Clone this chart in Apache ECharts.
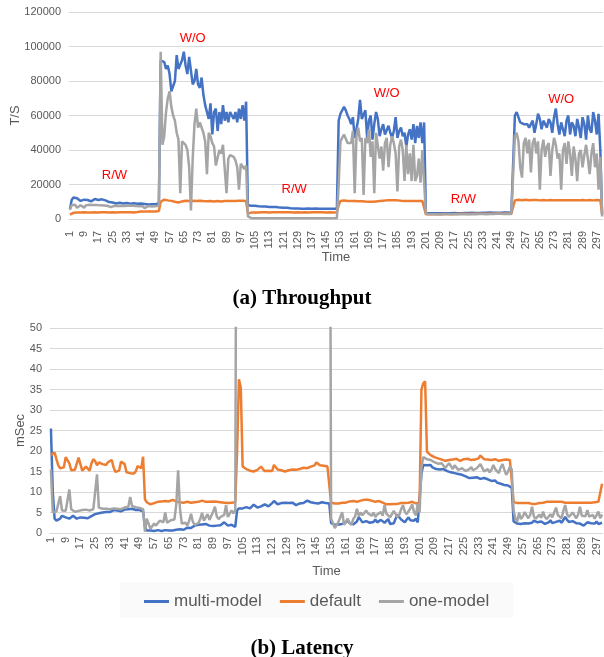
<!DOCTYPE html>
<html>
<head>
<meta charset="utf-8">
<script src="https://cdn.jsdelivr.net/npm/echarts@6/dist/echarts.min.js"></script>
<style>
  html, body { margin: 0; padding: 0; background: #fff; }
  #chart { width: 604px; height: 657px; }
</style>
</head>
<body>
<div id="chart"></div>
<script>
  // time axis: 1..300
  var times = [];
  for (var i = 1; i <= 300; i++) times.push(String(i));

  // (a) throughput, T/S
  var tpMulti = [
    5500, 11000, 12500, 12300, 12000, 11000, 10500, 11500, 11200, 11300,
    11000, 10500, 10200, 11000, 11600, 11300, 11000, 11200, 11400, 11000,
    10800, 10000, 9800, 9500, 9600, 9300, 9000, 9200, 9400, 9100,
    9000, 9200, 9300, 9000, 8900, 9000, 9100, 8900, 8800, 8900,
    9000, 8800, 8700, 8600, 8400, 8300, 8500, 8700, 8600, 8800,
    9000,
    92000, 93000, 91000, 87000, 89000, 84000, 74000, 73000, 80000,
    95000, 87000, 88000, 92000, 97000, 89000, 84000, 94000, 86000, 78000,
    80000, 87000, 78000, 76000, 82000, 72000, 66000, 62000, 58000, 67000,
    49000, 62000, 64000, 51000, 62000, 55000, 66000, 57000, 62000, 56000,
    62000, 60000, 58000, 62000, 56000, 64000, 58000, 66000, 57000, 68000,
    8000, 7800, 7700, 7600, 7700, 7500, 7400, 7500, 7300, 7200,
    7300, 7100, 7000, 7100, 6900, 6800, 6900, 6700, 6600, 6700,
    6500, 6400, 6500, 6300, 6200, 6300, 6100, 6000, 6100, 6200,
    6000, 6100, 5900, 6000, 6100, 6000, 5900, 6000, 6100, 5900,
    6000, 6100, 6000, 5900, 6000, 6100, 6000, 5900, 6000, 6100,
    6000,
    57000, 61000, 62000, 65000, 63000, 60000, 58000, 55000, 59000,
    47000, 52000, 58000, 69000, 58000, 57000, 63000, 47000, 57000, 60000,
    46000, 55000, 62000, 58000, 48000, 52000, 55000, 49000, 50000, 54000,
    50000, 47000, 51000, 59000, 47000, 51000, 53000, 48000, 50000, 42000,
    49000, 52000, 46000, 55000, 44000, 54000, 47000, 56000, 44000, 56000,
    3500, 3200, 3300, 3200, 3300, 3200, 3300, 3400, 3300, 3300,
    3400, 3300, 3400, 3400, 3300, 3400, 3500, 3400, 3400, 3500,
    3400, 3500, 3500, 3400, 3500, 3500, 3600, 3500, 3500, 3600,
    3500, 3600, 3600, 3500, 3600, 3600, 3700, 3600, 3600, 3700,
    3600, 3700, 3600, 3700, 3700, 3600, 3700, 3700, 3600, 3700,
    60000, 62000, 61000, 56000, 57000, 55000, 56000, 55000, 53000, 54000,
    57000, 50000, 55000, 61000, 58000, 52000, 57000, 55000, 53000, 58000,
    56000, 50000, 59000, 64000, 55000, 49000, 56000, 52000, 48000, 57000,
    60000, 49000, 56000, 54000, 48000, 58000, 53000, 47000, 59000, 55000,
    46000, 60000, 52000, 50000, 62000, 57000, 49000, 61000, 40000, 2500
  ];
  var tpDefault = [
    2500, 3200, 3600, 3700, 3800, 3800, 3700, 3800, 3900, 3800,
    3800, 3900, 3800, 3800, 3900, 3900, 3800, 3900, 3900, 3800,
    3900, 3900, 3800, 3900, 3900, 3900, 3800, 3900, 3900, 3900,
    3900, 3800, 3900, 3900, 3900, 3900, 3800, 3900, 4000, 4100,
    4300, 4400, 4400, 4500, 4400, 4300, 4400, 4500, 4400, 4500,
    4600,
    10000, 11000, 11200, 11000, 10800, 10600, 10500, 10300, 10000,
    9800, 9600, 9500, 10200, 10500, 10600, 10500, 10400, 10500, 10600,
    10500, 10400, 10500, 10600, 10500, 10400, 10500, 10300, 10200, 10400,
    10300, 10200, 10300, 10400, 10300, 10200, 10300, 10400, 10300, 10400,
    10500, 10400, 10300, 10400, 10500, 10600, 10500, 10600, 10500, 10400,
    3200, 3500, 3700, 3800, 3800, 3900, 3800, 3900, 3900, 3800,
    3900, 3900, 3800, 3900, 3900, 3800, 3900, 3900, 3900, 3800,
    3900, 3900, 3900, 3800, 3900, 3900, 3800, 3900, 3900, 3900,
    3800, 3900, 3900, 3900, 3800, 3900, 3900, 3800, 3900, 3900,
    3900, 3800, 3900, 3900, 3800, 3900, 3900, 3900, 3800, 3900,
    3900,
    8000, 10500, 10800, 10700, 10600, 10500, 10600, 10500, 10400,
    10500, 10400, 10300, 10400, 10300, 10200, 10100, 10200, 10000, 9900,
    10000, 10100, 10200, 10300, 10400, 10500, 10600, 10700, 10800, 10900,
    10900, 10800, 10900, 10800, 10800, 10700, 10600, 10500, 10500, 10600,
    10500, 10400, 10500, 10600, 10500, 10400, 10500, 10600, 10500, 10400,
    2800, 2700, 2800, 2800, 2700, 2800, 2800, 2900, 2800, 2800,
    2900, 2800, 2900, 2900, 2800, 2900, 2900, 3000, 2900, 2900,
    3000, 2900, 3000, 3000, 2900, 3000, 3000, 3100, 3000, 3000,
    3100, 3000, 3100, 3100, 3000, 3100, 3100, 3200, 3100, 3100,
    3200, 3100, 3200, 3200, 3100, 3200, 3200, 3200, 3100, 3200,
    10800, 11000, 11100, 11000, 10900, 11000, 11100, 11000, 10900, 11000,
    11000, 10900, 11000, 10900, 10800, 10900, 11000, 10900, 10800, 10900,
    11000, 10900, 10800, 10900, 10800, 10700, 10800, 10900, 10800, 10700,
    10800, 10900, 10800, 10700, 10800, 10900, 10800, 10900, 11000, 10900,
    10800, 10900, 11000, 10900, 10800, 10900, 11000, 10900, 10900, 3000
  ];
  var tpOne = [
    5500, 8000, 8600, 8200, 6500, 7500, 8000, 7800, 6600, 7900,
    8200, 8300, 8000, 8100, 8000, 8100, 8000, 7900, 8000, 7800,
    7900, 7700, 7200, 6900, 7500, 7600, 7700, 7600, 7500, 7700,
    7800, 7600, 7700, 7800, 7600, 7700, 7500, 7600, 7700, 7400,
    7300, 7400, 6200, 7200, 7500, 7400, 7300, 7500, 7400, 7600,
    7700,
    97000, 43000, 48000, 62000, 70000, 74000, 65000, 60000, 57000,
    50000, 46000, 15000, 45000, 44000, 43000, 40000, 30000, 5000, 35000,
    55000, 64000, 53000, 56000, 55000, 50000, 45000, 26000, 50000, 48000,
    44000, 42000, 31000, 32000, 40000, 38000, 43000, 42000, 15000, 35000,
    37000, 38000, 36000, 34000, 30000, 17000, 32000, 33000, 29000, 31000,
    1500, 600, 500, 400, 500, 400, 500, 400, 400, 500,
    400, 500, 400, 400, 500, 400, 400, 500, 400, 400,
    500, 400, 400, 500, 400, 500, 400, 400, 500, 400,
    400, 500, 400, 400, 500, 400, 500, 400, 400, 500,
    400, 400, 500, 400, 500, 400, 400, 500, 400, 400,
    500,
    20000, 45000, 47000, 49000, 50000, 44000, 43000, 44000, 51000,
    15000, 48000, 53000, 45000, 47000, 14000, 47000, 44000, 52000, 36000,
    45000, 15000, 50000, 49000, 35000, 42000, 28000, 44000, 47000, 30000,
    43000, 48000, 44000, 38000, 16000, 42000, 46000, 40000, 22000, 43000,
    26000, 38000, 22000, 43000, 22000, 25000, 35000, 21000, 40000, 41000,
    3000, 2600, 2700, 2600, 2700, 2600, 2700, 2700, 2600, 2700,
    2700, 2600, 2700, 2700, 2800, 2700, 2700, 2800, 2700, 2800,
    2800, 2700, 2800, 2800, 2700, 2800, 2800, 2900, 2800, 2800,
    2900, 2800, 2900, 2900, 2800, 2900, 2900, 3000, 2900, 2900,
    3000, 2900, 3000, 3000, 2900, 3000, 3000, 3000, 2900, 3000,
    48000, 50000, 45000, 30000, 24000, 44000, 47000, 38000, 46000, 27000,
    44000, 47000, 38000, 45000, 17000, 40000, 46000, 36000, 42000, 44000,
    25000, 40000, 47000, 43000, 35000, 38000, 17000, 40000, 44000, 32000,
    45000, 38000, 25000, 42000, 35000, 22000, 38000, 40000, 30000, 37000,
    43000, 35000, 26000, 38000, 44000, 30000, 38000, 17000, 36000, 1500
  ];

  // (b) latency, mSec
  var latMulti = [
    25.5, 10, 3.5, 3.0, 3.2, 3.5, 4.2, 4.5, 3.8, 3.4,
    3.5, 3.8, 4.2, 4.0, 3.5, 3.6, 3.8, 4.2, 3.7, 3.5,
    3.6, 3.9, 4.1, 4.5, 4.6, 4.7, 4.8, 4.9, 5.0, 5.2,
    5.1, 5.0, 5.1, 5.3, 5.6, 5.8, 5.5, 5.4, 5.3, 5.5,
    5.7, 5.6, 5.8, 6.0, 5.9, 5.7, 5.6, 5.5, 5.6, 5.4,
    5.3,
    1.5, 0.6, 0.5, 0.6, 0.7, 0.5, 0.6, 0.7, 0.6,
    0.5, 0.6, 0.7, 0.5, 0.6, 0.8, 0.6, 0.7, 0.8, 0.7,
    0.9, 0.6, 0.8, 1.0, 1.3, 1.5, 1.2, 1.6, 1.8, 1.7,
    2.0, 2.3, 2.1, 2.5, 2.2, 2.0, 1.8, 1.9, 1.7, 1.6,
    1.8, 2.0, 1.9, 2.2, 2.6, 2.3, 1.8, 1.6, 2.0, 1.7,
    1.5,
    5.5, 6.0, 6.1, 6.0, 6.2, 6.3, 6.1, 6.0, 6.4,
    6.9, 6.7, 6.2, 6.0, 6.5, 6.6, 7.0, 6.7, 6.5, 6.8,
    7.3, 7.8, 7.6, 7.0, 7.1, 7.3, 7.2, 7.4, 7.1, 7.3,
    7.2, 7.4, 7.0, 6.8, 7.1, 7.2, 7.4, 7.3, 7.6, 7.9,
    8.3, 7.5, 7.2, 7.3, 7.4, 7.2, 7.1, 7.5, 7.6, 7.3,
    7.0, 7.2,
    2.4, 2.2, 2.0, 2.3, 2.1, 2.5, 2.2, 2.0,
    2.6, 3.1, 2.4, 2.2, 2.1, 2.3, 2.8, 3.9, 3.5, 2.6,
    2.4, 2.9, 3.1, 2.5, 2.3, 2.7, 3.3, 2.6, 2.4, 3.2,
    3.0, 2.5, 2.8, 3.4, 2.2, 2.0, 2.4, 3.5, 4.5, 3.8,
    3.3, 2.9, 2.6, 3.3, 3.8, 3.1, 3.4, 3.0, 3.5, 2.6,
    2.3,
    14.5, 16.6, 16.4, 16.5, 16.2, 16.6, 16.0, 15.8, 15.6,
    15.7, 15.5, 15.4, 15.6, 15.2, 15.1, 14.9, 14.8, 15.0, 14.6,
    14.5, 14.4, 14.6, 14.2, 14.0, 13.8, 13.6, 13.4, 13.7, 13.5,
    13.4, 13.6, 13.5, 13.2, 13.3, 13.4, 13.0, 13.1, 12.9, 12.7,
    12.5, 12.8, 12.3, 12.1, 12.0, 11.9, 11.7, 11.5, 11.6, 11.2,
    11.0,
    2.8, 2.5, 2.3, 2.6, 2.2, 2.0, 2.4, 2.7, 2.3,
    2.1, 2.5, 3.0, 3.2, 2.6, 2.3, 2.8, 2.5, 2.2, 2.0,
    2.6, 3.1, 2.4, 2.0, 2.7, 2.4, 3.0, 2.5, 2.9, 3.9,
    3.2, 2.7, 2.3, 2.9, 2.6, 2.4, 2.7, 2.3, 1.9, 1.8,
    2.1, 2.6, 3.0, 2.4, 2.0, 2.3, 2.8, 2.2, 1.8, 2.5
  ];
  var latDefault = [
    19.0, 19.3, 19.6, 18.0, 16.5, 15.8, 15.6, 16.0, 18.5, 18.7,
    17.0, 15.3, 15.2, 15.4, 15.3, 18.4, 18.2, 15.2, 15.3, 16.2,
    16.6, 15.2, 17.0, 18.0, 17.5, 16.5, 17.2, 17.0, 16.8, 17.1,
    16.6, 17.3, 17.5, 17.8, 16.0, 14.9, 15.0, 15.2, 17.4, 17.6,
    16.8, 14.8, 14.5, 14.6, 14.3, 14.5, 15.0, 16.3, 16.5, 15.8,
    18.6,
    8.2, 7.5, 7.2, 7.0, 7.1, 7.3, 7.5, 7.6, 7.8,
    7.7, 7.6, 7.8, 7.9, 7.7, 7.8, 8.1, 7.9, 7.7, 7.6,
    7.5, 7.6, 7.4, 7.5, 7.6, 7.5, 7.4, 7.6, 7.5, 7.7,
    7.6, 7.7, 7.9, 7.8, 7.6, 7.7, 7.6, 7.5, 7.7, 7.8,
    7.6, 7.7, 7.5, 7.6, 7.4, 7.5, 7.3, 7.5, 7.4, 7.6,
    7.5,
    20.0, 37.5, 35.5, 16.2, 16.0, 15.6, 15.4, 15.2, 15.3,
    15.0, 15.2, 15.4, 15.8, 16.2, 15.6, 15.1, 15.0, 15.2, 15.0,
    15.1, 16.6, 17.0, 15.5, 15.1, 15.3, 15.2, 15.0, 15.4, 15.3,
    15.2, 15.5, 15.6, 15.4, 15.5, 15.6, 15.8, 15.9, 16.0, 15.8,
    15.6, 16.2, 16.0, 16.5, 17.2, 16.8, 16.5, 16.3, 16.4, 16.3,
    16.2, 16.2,
    7.4, 7.3, 7.2, 7.3, 7.2, 7.3, 7.4, 7.3,
    7.4, 7.6, 7.7, 7.6, 7.8, 7.7, 7.6, 7.8, 7.9, 8.0,
    8.1, 8.2, 8.1, 8.2, 7.9, 7.7, 7.6, 7.7, 7.8, 7.6,
    7.4, 7.2, 7.0, 7.1, 7.0, 7.2, 7.1, 7.3, 7.1, 7.2,
    7.3, 7.4, 7.3, 7.5, 7.4, 7.5, 7.6, 7.4, 7.2, 7.5,
    7.4,
    35.0, 36.5, 37.0, 19.8, 19.4, 19.0, 18.7, 18.5, 18.3,
    18.2, 18.0, 17.9, 17.8, 17.6, 17.7, 17.8, 17.6, 17.9, 17.7,
    18.1, 17.8, 17.6, 17.9, 18.0, 17.7, 18.1, 18.2, 17.8, 17.6,
    17.9, 18.0, 18.2, 18.9, 18.6, 18.0, 17.8, 17.9, 18.1, 17.8,
    17.7, 18.0, 17.8, 17.6, 17.7, 17.8, 17.6, 17.9, 17.7, 17.8,
    17.6,
    7.6, 7.4, 7.3, 7.4, 7.3, 7.2, 7.3, 7.4, 7.3,
    7.2, 7.1, 7.2, 7.1, 7.2, 7.3, 7.2, 7.4, 7.5, 7.6,
    7.5, 7.6, 7.7, 7.6, 7.5, 7.6, 7.7, 7.6, 7.5, 7.4,
    7.5, 7.4, 7.3, 7.4, 7.5, 7.4, 7.3, 7.4, 7.5, 7.4,
    7.3, 7.4, 7.5, 7.4, 7.3, 7.5, 7.4, 7.6, 7.5, 12.0
  ];
  // one-model goes far above 50 ms between the two tall spikes
  var latOne = [
    15.5, 5.0, 5.2, 5.3, 5.5, 9.0, 5.5, 5.2, 5.4, 5.6,
    10.6, 5.8, 5.4, 5.2, 5.3, 5.4, 5.5, 5.6, 5.5, 5.7,
    5.6, 5.5, 5.6, 5.8, 5.7, 14.3, 6.2, 6.0, 5.9, 5.8,
    5.9, 6.0, 5.8, 5.9, 6.0, 6.1, 5.9, 6.0, 5.8, 6.1,
    6.2, 6.0, 6.4, 8.8, 6.6, 6.2, 6.3, 6.0, 6.1, 5.9,
    5.8,
    0.3, 3.5, 3.2, 1.0, 1.2, 2.3, 1.8, 2.0, 3.0,
    3.2, 2.6, 5.0, 2.5, 2.3, 3.1, 2.8, 3.3, 7.0, 15.3,
    6.0, 2.3, 2.0, 2.5, 1.8, 3.0, 4.7, 2.7, 2.0, 1.8,
    2.4, 3.4, 4.9, 3.0, 2.6, 4.6, 3.2, 3.6, 5.2, 6.4,
    4.0, 3.4, 3.9, 4.0, 4.4, 6.8, 3.9, 4.2, 5.5, 4.8,
    5.5,
    150, 150, 150, 150, 150, 150, 150, 150, 150,
    150, 150, 150, 150, 150, 150, 150, 150, 150, 150,
    150, 150, 150, 150, 150, 150, 150, 150, 150, 150,
    150, 150, 150, 150, 150, 150, 150, 150, 150, 150,
    150, 150, 150, 150, 150, 150, 150, 150, 150, 150,
    150, 150,
    3.5, 2.4, 1.2, 1.5, 2.7, 3.0, 5.1, 2.0,
    1.7, 3.5, 2.5, 2.0, 3.4, 4.0, 5.9, 4.2, 5.0, 4.3,
    4.6, 5.5, 4.8, 4.6, 4.2, 5.0, 3.9, 4.5, 4.1, 5.1,
    4.2, 6.8, 4.7, 4.3, 3.8, 4.1, 5.4, 4.6, 3.9, 4.4,
    5.8, 6.8, 5.2, 4.6, 5.3, 6.0, 7.0, 5.1, 4.3, 7.2,
    5.0,
    16.0, 18.5, 18.2, 18.0, 17.6, 17.8, 17.5, 17.3, 17.6,
    16.9, 16.6, 17.0, 16.4, 15.9, 16.2, 17.0, 16.3, 15.6, 16.5,
    16.9, 15.4, 15.2, 15.8, 16.0, 15.1, 14.9, 15.6, 16.1, 15.3,
    15.0, 15.8, 15.4, 16.8, 16.4, 15.0, 15.2, 15.6, 14.8, 15.4,
    16.6, 15.6, 15.2, 14.6, 16.0, 16.8, 15.4, 14.2, 15.0, 16.2,
    15.5,
    5.5, 3.5, 2.8, 5.0, 3.4, 4.0, 5.1, 4.3, 3.6,
    4.4, 6.4, 4.0, 3.5, 3.8, 4.5, 3.7, 5.2, 3.9, 3.4,
    4.0, 4.6, 3.8, 5.0, 6.2, 4.4, 4.0, 3.6, 5.4, 6.8,
    4.6, 3.9, 4.2, 5.0, 4.3, 3.6, 4.5, 6.4, 4.2, 3.8,
    4.1, 5.6, 4.0, 3.7, 4.4, 3.5, 3.9, 5.2, 3.6, 4.5
  ];

  // red phase notes on the throughput chart: [text, time, T/S]
  var phaseNotes = [
    ['R/W', '26', 25500],
    ['W/O', '70', 104800],
    ['R/W', '127', 17200],
    ['W/O', '179', 72900],
    ['R/W', '222', 11600],
    ['W/O', '277', 69600]
  ];

  var names = ['multi-model', 'default', 'one-model'];
  var colors = ['#4472C4', '#ED7D31', '#A5A5A5'];
  var gridColor = '#d9d9d9';
  var textColor = '#595959';
  var font = 'Liberation Sans';

  function xAxisFor(idx, labelMargin) {
    return {
      type: 'category',
      gridIndex: idx,
      data: times,
      boundaryGap: true,
      name: 'Time',
      nameLocation: 'middle',
      nameGap: 32,
      nameMoveOverlap: false,
      nameTextStyle: { color: textColor, fontSize: 13, fontFamily: font },
      axisLine: { lineStyle: { color: gridColor } },
      axisTick: { show: false },
      axisLabel: { interval: 7, rotate: 90, fontSize: 11, color: textColor, fontFamily: font, margin: labelMargin }
    };
  }

  function yAxisFor(idx, max, step, name, gap) {
    return {
      type: 'value',
      gridIndex: idx,
      min: 0,
      max: max,
      interval: step,
      name: name,
      nameLocation: 'middle',
      nameGap: gap,
      nameMoveOverlap: false,
      nameTextStyle: { color: textColor, fontSize: 13, fontFamily: font },
      axisLine: { show: false },
      axisTick: { show: false },
      splitLine: { lineStyle: { color: gridColor, width: 1 } },
      axisLabel: { fontSize: 11, color: textColor, fontFamily: font, margin: 8,
                   formatter: function (v) { return String(v); } }
    };
  }

  function lineSeries(k, data, idx) {
    return {
      name: names[k],
      type: 'line',
      data: data,
      xAxisIndex: idx,
      yAxisIndex: idx,
      showSymbol: false,
      symbol: 'none',
      clip: true,
      lineStyle: { width: 2.5, color: colors[k] },
      itemStyle: { color: colors[k] }
    };
  }

  var chart = echarts.init(document.getElementById('chart'));

  var series = [
    lineSeries(0, tpMulti, 0),
    lineSeries(1, tpDefault, 0),
    lineSeries(2, tpOne, 0),
    lineSeries(0, latMulti, 1),
    lineSeries(1, latDefault, 1),
    lineSeries(2, latOne, 1)
  ];
  series[0].markPoint = {
    symbol: 'circle',
    symbolSize: 0,
    silent: true,
    label: { show: true, position: 'inside', color: '#ff0000', fontSize: 13, fontFamily: font, formatter: function (p) { return p.name; } },
    data: phaseNotes.map(function (n) { return { name: n[0], coord: [n[1], n[2]] }; })
  };

  var captionStyle = { fontFamily: 'Liberation Serif', fontWeight: 'bold', fontSize: 21, color: '#000' };

  chart.setOption({
    animation: false,
    backgroundColor: '#fff',
    color: colors,
    title: [
      { text: '(a) Throughput', left: 'center', top: 283, textStyle: captionStyle },
      { text: '(b) Latency', left: 'center', top: 633, textStyle: captionStyle }
    ],
    legend: {
      data: names,
      left: 120,
      top: 582,
      icon: 'rect',
      itemWidth: 25,
      itemHeight: 3,
      itemGap: 18,
      padding: [11, 24, 8, 24],
      backgroundColor: '#fafafa',
      textStyle: { fontSize: 17, color: textColor, fontFamily: font }
    },
    grid: [
      { left: 69, right: 1, top: 12, height: 207, outerBoundsMode: 'none' },
      { left: 50, right: 1, top: 328, height: 205, outerBoundsMode: 'none' }
    ],
    xAxis: [xAxisFor(0, 12), xAxisFor(1, 4)],
    yAxis: [yAxisFor(0, 120000, 20000, 'T/S', 47), yAxisFor(1, 50, 5, 'mSec', 23)],
    series: series
  });
</script>
</body>
</html>
